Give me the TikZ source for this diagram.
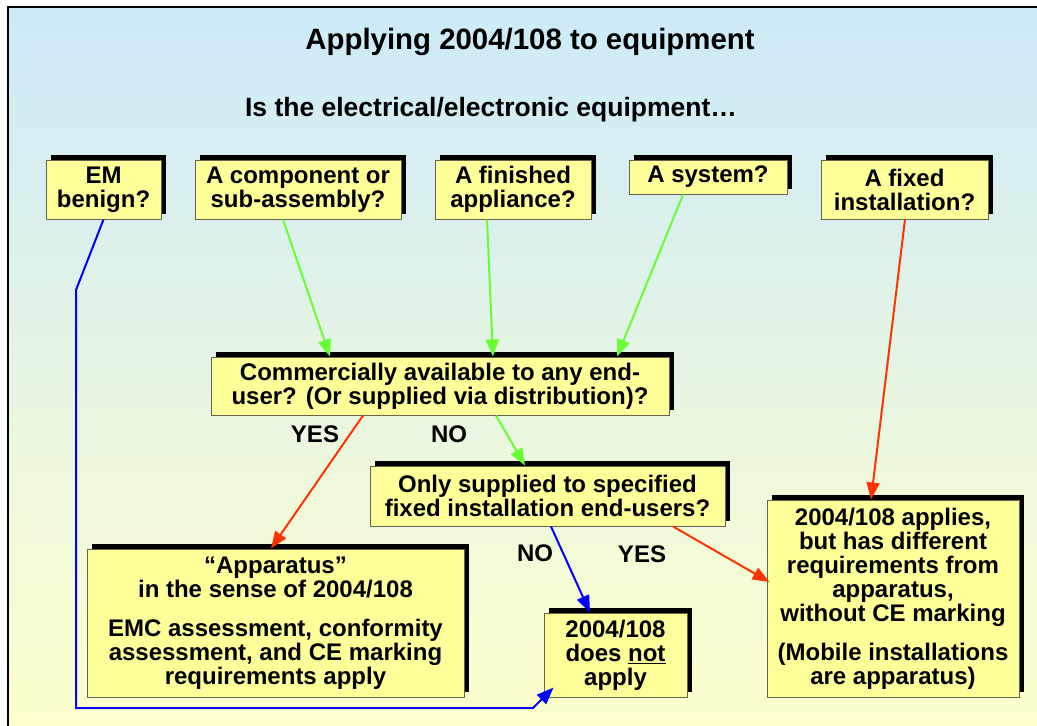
\documentclass[tikz,border=0pt]{standalone}
\usepackage{fontspec}
\setmainfont{Liberation Sans}
\usetikzlibrary{arrows.meta,shadows}
\definecolor{boxfill}{RGB}{255,255,153}
\definecolor{boxline}{RGB}{100,100,80}
\definecolor{bgtop}{RGB}{204,234,250}
\definecolor{bgbot}{RGB}{255,255,204}
\definecolor{lgreen}{RGB}{102,255,51}
\definecolor{lred}{RGB}{255,51,0}
\definecolor{lblue}{RGB}{0,0,255}
\tikzset{
  qbox/.style={draw=boxline, line width=1pt, fill=boxfill, inner sep=0pt,
    align=center, font=\bfseries\fontsize{24}{24}\selectfont,
    general shadow={fill=black, shadow xshift=5pt, shadow yshift=5pt}},
  lbl/.style={font=\bfseries\fontsize{24}{24}\selectfont, inner sep=0pt},
  conn/.style={line width=2pt, -{Triangle[length=17pt,width=13pt]}},
}
\begin{document}
\begin{tikzpicture}[x=1pt,y=-1pt]
\useasboundingbox (0,0) rectangle (1037,726);
\clip (0,0) rectangle (1037,726);
\fill[white] (0,0) rectangle (1037,726);
\shade[top color=bgtop, bottom color=bgbot] (8,7) rectangle (1045,735);
\draw[line width=1.8pt] (1045,7) -- (8,7) -- (8,735);

\node[font=\bfseries\fontsize{29.4}{30}\selectfont, inner sep=0pt] (title) at (530,42) {Applying 2004/108 to equipment};
\node[font=\bfseries\fontsize{26.5}{27}\selectfont, inner sep=0pt] (sub) at (491,110) {Is the electrical/electronic equipment\char"2026};

\node[qbox, minimum width=115pt, minimum height=59pt] (em) at (103.5,189.5) {EM\\benign?};
\node[qbox, minimum width=206pt, minimum height=59pt] (comp) at (298,189.5) {A component or\\sub-assembly?};
\node[qbox, minimum width=156pt, minimum height=59pt] (fin) at (513,189.5) {A finished\\appliance?};
\node[qbox, minimum width=158pt, minimum height=34pt] (sys) at (708,177) {A system?};
\node[qbox, minimum width=167pt, minimum height=59pt] (fix) at (904.5,189.5) {A fixed\\installation?};

\node[qbox, minimum width=458pt, minimum height=58pt] (comm) at (440,386) {Commercially available to any end-\\user? (Or supplied via distribution)?};
\node[qbox, minimum width=355pt, minimum height=60pt] (only) at (547.5,496) {Only supplied to specified\\fixed installation end-users?};

\node[qbox, minimum width=377pt, minimum height=148pt] (app) at (275.5,623) {\char"201C Apparatus\char"201D\\in the sense of 2004/108\\[15pt]EMC assessment, conformity\\assessment, and CE marking\\requirements apply};
\node[qbox, minimum width=143pt, minimum height=84pt] (dna) at (615.5,655) {2004/108\\does \underline{not}\\apply};
\node[qbox, minimum width=252pt, minimum height=197pt] (big) at (893,598.5) {2004/108 applies,\\but has different\\requirements from\\apparatus,\\without CE marking\\[15pt](Mobile installations\\are apparatus)};

\node[lbl] (yes1) at (315,434) {YES};
\node[lbl] (no1) at (449,434) {NO};
\node[lbl] (no2) at (535,553) {NO};
\node[lbl] (yes2) at (642,554) {YES};

\coordinate (b1) at (76,290);
\coordinate (b2) at (76,708);
\coordinate (b3) at (533,708);

\draw[conn, lgreen] ([xshift=-15pt]comp.south) -- ([xshift=-110pt]comm.north);
\draw[conn, lgreen] ([xshift=-26pt]fin.south) -- ([xshift=53pt]comm.north);
\draw[conn, lgreen] ([xshift=-25pt]sys.south) -- ([xshift=177pt]comm.north);
\draw[conn, lgreen] ([xshift=56pt]comm.south) -- ([xshift=-22.5pt]only.north);
\draw[conn, lred] ([xshift=-77pt]comm.south) -- ([xshift=-4.5pt]app.north);
\draw[conn, lred] ([xshift=0.5pt]fix.south) -- ([xshift=-22pt]big.north);
\draw[conn, lblue] ([xshift=3.5pt]only.south) -- ([xshift=-25.5pt]dna.north);
\draw[conn, lred] ([xshift=125.5pt]only.south) -- ([xshift=3pt,yshift=16.5pt]big.west);
\draw[conn, lblue] (em.south) -- (b1) -- (b2) -- (b3) -- ([xshift=10pt,yshift=10pt]dna.south west);
\end{tikzpicture}
\end{document}
